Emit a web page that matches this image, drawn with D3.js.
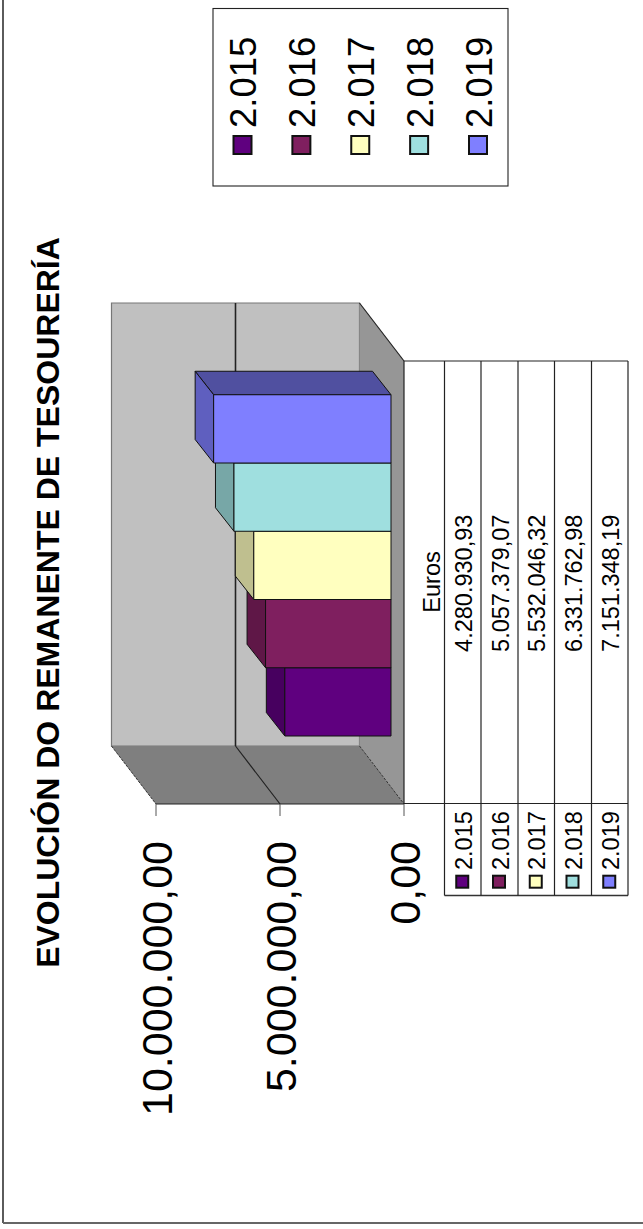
<!DOCTYPE html>
<html><head><meta charset="utf-8">
<script src="https://cdn.jsdelivr.net/npm/d3@7/dist/d3.min.js"></script>
<style>html,body{margin:0;padding:0;background:#fff}svg{display:block}text{font-family:"Liberation Sans",Arial,sans-serif;fill:#000}</style>
</head><body><script>
const categories = ["2.015","2.016","2.017","2.018","2.019"];
const values = [4280930.93,5057379.07,5532046.32,6331762.98,7151348.19];
const valueLabels = ["4.280.930,93","5.057.379,07","5.532.046,32","6.331.762,98","7.151.348,19"];
const colors = ["#5f007f","#7f1f5f","#ffffbf","#9fdfdf","#7f7fff"];
const sideColors = ["#47005f","#5f1747","#bfbf8f","#77a7a7","#5f5fbf"];
const topColors = ["#3f0055","#55153f","#aaaa7f","#6f9595","#5050a0"];
const axisTicks = [0,5000000,10000000];
const axisLabels = ["0,00","5.000.000,00","10.000.000,00"];
const titleText = "EVOLUCIÓN DO REMANENTE DE TESOURERÍA";
const seriesName = "Euros";

const svg = d3.select("body").append("svg").attr("width",643).attr("height",1229);
const stroke = "#111";
const line = d3.line();
function poly(pts,fill,s,w,dash){const p=svg.append("path").attr("d",line(pts)+"Z").attr("fill",fill).attr("stroke",s||"none").attr("stroke-width",w||1);if(dash)p.attr("stroke-dasharray",dash);return p;}
function seg(a,b,s,w,dash){const p=svg.append("line").attr("x1",a[0]).attr("y1",a[1]).attr("x2",b[0]).attr("y2",b[1]).attr("stroke",s||stroke).attr("stroke-width",w||1);if(dash)p.attr("stroke-dasharray",dash);return p;}
function rtext(x,y,t,size,anchor,weight){return svg.append("text").attr("transform",`translate(${x},${y}) rotate(-90)`).attr("text-anchor",anchor||"middle").attr("font-size",size).attr("font-weight",weight||"normal").text(t);}

// outer frame: only the left and bottom edges fall inside the picture
seg([3,0],[3,1223],"#333",1.6);
seg([3,1223],[643,1223],"#666",1.8);

// scales
const xVal = d3.scaleLinear().domain([0,10000000]).range([404,156]);
const yFront = 804, yFrontTop = 361, dx = -44.5, dy = -58;

// walls
const x0 = xVal(0), x1 = xVal(10000000);
poly([[x1+dx,yFrontTop+dy],[x0+dx,yFrontTop+dy],[x0+dx,yFront+dy],[x1+dx,yFront+dy]],"#c0c0c0","#777",1.2);
poly([[x0+dx,yFrontTop+dy],[x0,yFrontTop],[x0,yFront],[x0+dx,yFront+dy]],"#969696");
poly([[x1+dx,yFront+dy],[x0+dx,yFront+dy],[x0,yFront],[x1,yFront]],"#7f7f7f");
seg([x0+dx,yFrontTop+dy],[x0,yFrontTop],"#222",1.2);
seg([x1+dx,yFront+dy],[x1,yFront],"#333",1,"3,1");
seg([x0+dx,yFront+dy],[x0,yFront],"#333",1,"3,1");
seg([x1,yFront],[x0,yFront],"#222",1.2);
seg([x0,yFrontTop],[x0,yFront],"#222",1.2);
// gridlines
axisTicks.filter(t=>t>0&&t<10000000).forEach(t=>{
  seg([xVal(t)+dx,yFrontTop+dy],[xVal(t)+dx,yFront+dy],"#222",1.6);
  seg([xVal(t)+dx,yFront+dy],[xVal(t),yFront],"#222",1.2);
});
// ticks and labels
axisTicks.forEach((t,i)=>{
  seg([xVal(t),yFront],[xVal(t),816],"#555",1);
  rtext(xVal(t)+16.2,841,axisLabels[i],43,"end");
});

// bars
const baseX = 391, bdx=-18.5, bdy=-23.5, bandH = 68.25, bottom = 736;
categories.forEach((c,i)=>{
  const v = values[i], left = baseX-(x0-xVal(v));
  const t = bottom-(i+1)*bandH, b = bottom-i*bandH;
  poly([[left+bdx,t+bdy],[baseX+bdx,t+bdy],[baseX,t],[left,t]],topColors[i],"#111",1);
  poly([[left+bdx,t+bdy],[left,t],[left,b],[left+bdx,b+bdy]],sideColors[i],"#111",1);
  poly([[left,t],[baseX,t],[baseX,b],[left,b]],colors[i],"#111",1);
});

// data table
const colX = [404,444.5,481,518,554.5,591.5,628];
const tTop = 361, tMid = 803.5, tBot = 895.5;
seg([404,tTop],[colX[6],tTop],"#222",1.2);
seg([404,tMid],[colX[6],tMid],"#222",1.2);
seg([colX[1],tBot],[colX[6],tBot],"#333",1.4);
colX.slice(1).forEach(x=>seg([x,tTop],[x,tBot],"#222",1.2));
rtext(440,582,seriesName,23.5);
categories.forEach((c,i)=>{
  const cx = (colX[i+1]+colX[i+2])/2;
  const base = colX[i+2]-9.3;
  rtext(base,583.3,valueLabels[i],23.5);
  rtext(base,870,c,23.5,"start");
  svg.append("rect").attr("x",cx-6.5).attr("y",875.7).attr("width",12).attr("height",12).attr("fill",colors[i]).attr("stroke","#111").attr("stroke-width",2);
});

// title
rtext(59.3,602.5,titleText,32,"middle","bold");

// legend
svg.append("rect").attr("x",213).attr("y",8.5).attr("width",295).attr("height",177.5).attr("fill","#fff").attr("stroke","#222").attr("stroke-width",1.1);
const lx = d3.scalePoint().domain(categories).range([242.5,478]);
categories.forEach((c,i)=>{
  rtext(lx(c)+13.5,128,c,36.5,"start");
  svg.append("rect").attr("x",lx(c)-9).attr("y",136).attr("width",18).attr("height",18).attr("fill",colors[i]).attr("stroke","#111").attr("stroke-width",2);
});
</script></body></html>
